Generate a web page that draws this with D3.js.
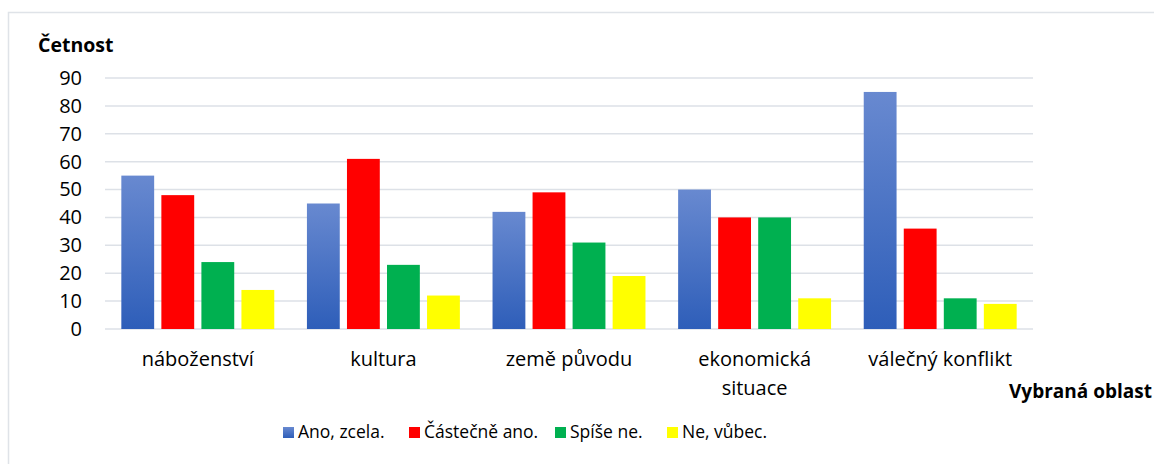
<!DOCTYPE html>
<html>
<head>
<meta charset="utf-8">
<script src="https://cdn.jsdelivr.net/npm/d3@7"></script>
<style>
body{margin:0;background:#fff}
text{font-family:"Open Sans",sans-serif;fill:#000}
</style>
</head>
<body>
<script>
var categories=["náboženství","kultura","země původu","ekonomická situace","válečný konflikt"]
var series=["Ano, zcela.","Částečně ano.","Spíše ne.","Ne, vůbec."]
var anoZcela=[55,45,42,50,85]
var castecneAno=[48,61,49,40,36]
var spiseNe=[24,23,31,40,11]
var neVubec=[14,12,19,11,9]
var yTicks=[0,10,20,30,40,50,60,70,80,90]
var colors=["url(#blueGrad)","#ff0000","#00b050","#ffff00"]

var values=[anoZcela,castecneAno,spiseNe,neVubec]

var svg=d3.select("body").append("svg")
.attr('width',1154)
.attr('height',464)

// blue gradient
var grad=svg.append("defs").append("linearGradient")
.attr('id','blueGrad')
.attr('x1','0%').attr('y1','0%')
.attr('x2','0%').attr('y2','100%')
grad.append("stop").attr('offset','0%').attr('stop-color','#6889d0')
grad.append("stop").attr('offset','100%').attr('stop-color','#2e5eb9')

// chart frame
svg.append("rect")
.attr('x',8.5).attr('y',12.5)
.attr('width',1200).attr('height',500)
.attr('fill','none')
.attr('stroke','#dfe3e8')
.attr('stroke-width',1.5)

var x0=d3.scaleBand()
.domain(categories)
.range([105,1033])
.paddingInner(0.176)
.paddingOuter(0.088)

var x1=d3.scaleBand()
.domain(series)
.range([0,x0.bandwidth()])
.paddingInner(0.18)

var y=d3.scaleLinear()
.domain([0,90])
.range([329,78])

// grid
svg.append("g").selectAll("line")
.data(yTicks)
.join("line")
.attr('x1',105).attr('x2',1033)
.attr('y1',d=>y(d)).attr('y2',d=>y(d))
.attr('stroke','#dde1e7')
.attr('stroke-width',1.5)

// y axis labels
var yAxis=d3.axisLeft(y).tickValues(yTicks).tickSize(0).tickPadding(0)
var ya=svg.append("g").attr('transform','translate(82,0)').call(yAxis)
ya.select(".domain").remove()
ya.selectAll("text")
.style('font-family','"Open Sans",sans-serif')
.style('font-size','20px')
.attr('fill','#000')

// bars
series.forEach(function(s,si){
  svg.append("g").selectAll("rect")
  .data(values[si])
  .join("rect")
  .attr('x',(d,i)=>x0(categories[i])+x1(s))
  .attr('y',d=>y(d))
  .attr('width',x1.bandwidth())
  .attr('height',d=>y(0)-y(d))
  .attr('fill',colors[si])
})

// category labels
var xAxis=d3.axisBottom(x0).tickSize(0).tickPadding(0)
var xa=svg.append("g").attr('transform','translate(0,329)').call(xAxis)
xa.select(".domain").remove()
xa.selectAll("text").remove()
xa.selectAll(".tick").each(function(d){
  var t=d3.select(this).append("text")
  .attr('text-anchor','middle')
  .style('font-family','"Open Sans",sans-serif')
  .style('font-size','20px')
  .attr('fill','#000')
  var lines=d=="ekonomická situace"?["ekonomická","situace"]:[d]
  lines.forEach(function(l,li){
    t.append("tspan").attr('x',0).attr('y',37+li*29).text(l)
  })
})

// axis titles
svg.append("text")
.attr('x',38).attr('y',52)
.style('font-size','19.5px')
.style('font-weight','bold')
.text("Četnost")

svg.append("text")
.attr('x',1009).attr('y',398)
.style('font-size','19px')
.style('font-weight','bold')
.text("Vybraná oblast")

// legend
var legendX=[283,409,555,667]
var lg=svg.append("g").selectAll("g")
.data(series)
.join("g")
.attr('transform',(d,i)=>'translate('+legendX[i]+',427)')
lg.append("rect")
.attr('width',11).attr('height',11)
.attr('fill',(d,i)=>colors[i])
lg.append("text")
.attr('x',15).attr('y',11)
.style('font-size','17.5px')
.text(d=>d)
</script>
</body>
</html>
